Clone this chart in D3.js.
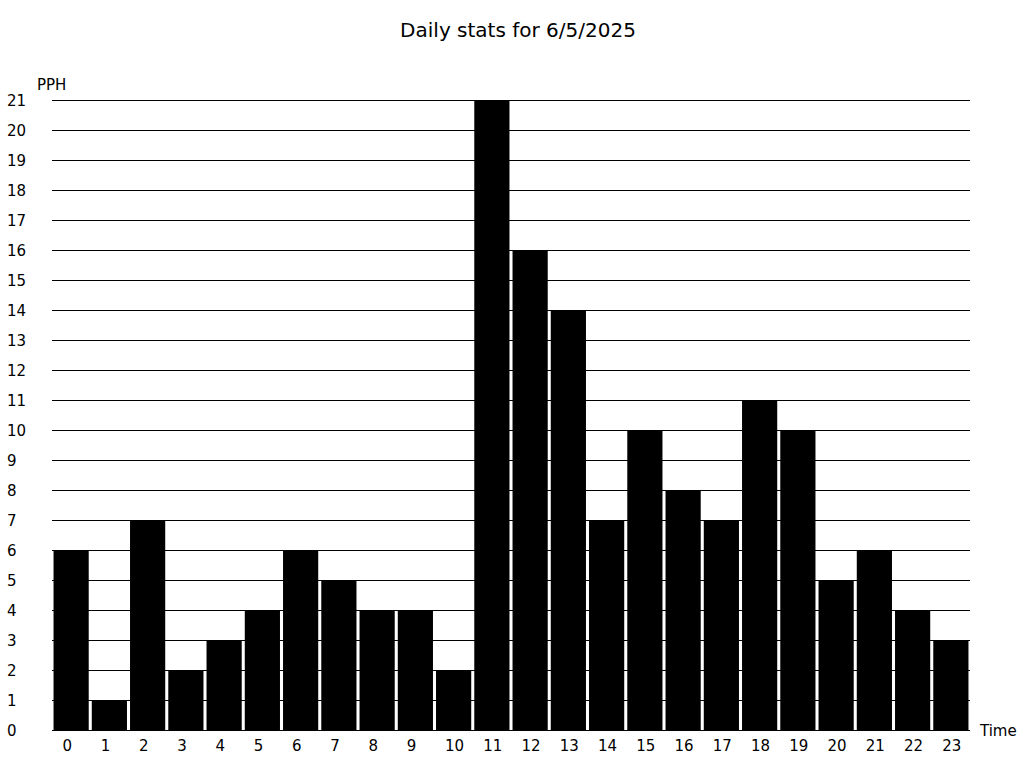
<!DOCTYPE html>
<html><head><meta charset="utf-8">
<script src="https://cdn.jsdelivr.net/npm/d3@7"></script>
<style>body{margin:0;background:#fff;} text{font-family:"DejaVu Sans",sans-serif;fill:#000;}</style>
</head><body>
<svg id="c" width="1024" height="768"></svg>
<script>
const hours = ["0","1","2","3","4","5","6","7","8","9","10","11","12","13","14","15","16","17","18","19","20","21","22","23"];
const pph = [6,1,7,2,3,4,6,5,4,4,2,21,16,14,7,10,8,7,11,10,5,6,4,3];
const yTicks = d3.range(0,22);
const title = "Daily stats for 6/5/2025";

(function(){
const svg = d3.select("#c");
const mLeft = 52, mRight = 970, mTop = 100, mBottom = 730;
const x = d3.scaleBand().domain(hours).range([mLeft,mRight]).paddingInner(0.08).paddingOuter(0.04);
const y = d3.scaleLinear().domain([0,21]).range([mBottom,mTop]);

svg.append("text").attr("x",518).attr("y",37).attr("text-anchor","middle").attr("font-size",20).text(title);
svg.append("text").attr("x",37).attr("y",90).attr("font-size",15).text("PPH");
svg.append("text").attr("x",980).attr("y",736).attr("font-size",15).text("Time");

svg.append("g").selectAll("rect").data(pph).join("rect")
  .attr("x",(d,i)=>x(hours[i])).attr("width",x.bandwidth())
  .attr("y",d=>y(d)).attr("height",d=>mBottom-y(d)).attr("fill","#000");

svg.append("g").selectAll("line").data(yTicks).join("line")
  .attr("x1",mLeft).attr("x2",mRight).attr("y1",d=>y(d)+0.5).attr("y2",d=>y(d)+0.5)
  .attr("stroke","#000").attr("stroke-width",1);

svg.append("g").selectAll("text").data(yTicks).join("text")
  .attr("x",7).attr("y",d=>y(d)+5.5).attr("font-size",15).text(d=>d);

svg.append("g").selectAll("text").data(hours).join("text")
  .attr("x",d=>x(d)+9).attr("y",751).attr("font-size",15).text(d=>d);
})();
</script>
</body></html>
